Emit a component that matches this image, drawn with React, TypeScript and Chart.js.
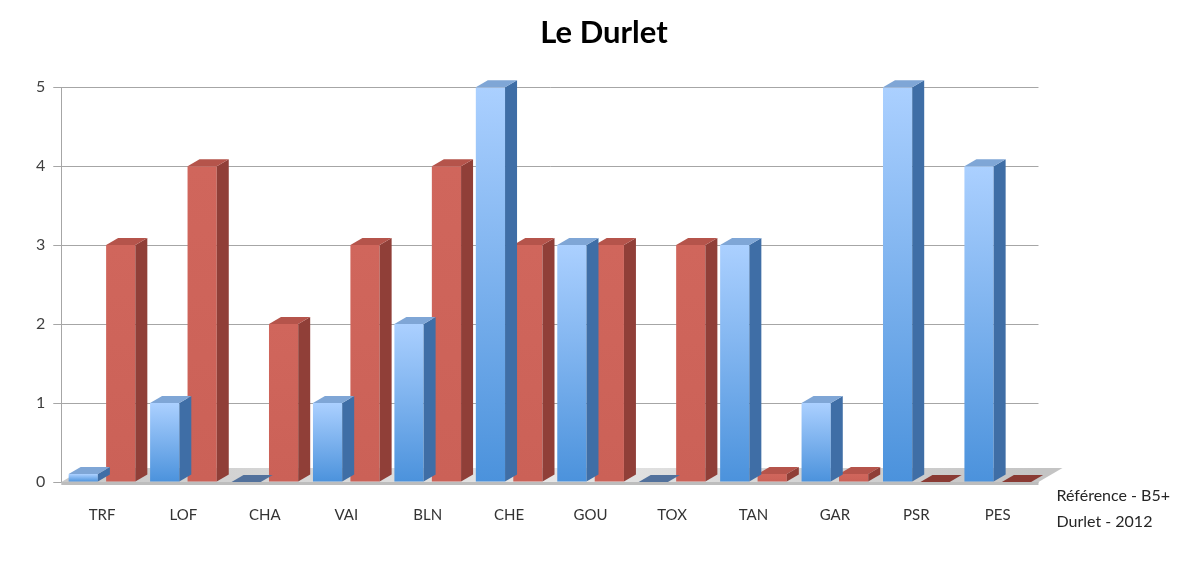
import { useEffect, useRef } from "react";
import { Chart, registerables } from "chart.js";

Chart.register(...registerables);

const chartTitle = "Le Durlet";
const categories = ["TRF", "LOF", "CHA", "VAI", "BLN", "CHE", "GOU", "TOX", "TAN", "GAR", "PSR", "PES"];
const seriesNames = ["Durlet - 2012", "Référence - B5+"];
const durlet2012 = [0.1, 1, 0, 1, 2, 5, 3, 0, 3, 1, 5, 4];
const referenceB5 = [3, 4, 2, 3, 4, 3, 3, 3, 0.1, 0.1, 0, 0];
const yTicks = [0, 1, 2, 3, 4, 5];

const DX = 12;
const DY = -7;

const palette = [
  { light: "#abd0ff", dark: "#4b92dc", side: "#3f6ea6", top: "#7fa6d6", flat: "#52719c" },
  { light: "#d0665c", dark: "#cb6157", side: "#903f38", top: "#b5544b", flat: "#8a3a33" },
];

function frontFill(i: number) {
  return (ctx: any) => {
    const chart = ctx.chart;
    const ys = chart.scales && chart.scales.y;
    const p = palette[i];
    if (!chart.chartArea || !ys || ctx.type !== "data") return p.dark;
    const v = ctx.raw as number;
    const top = ys.getPixelForValue(v);
    const bottom = ys.getPixelForValue(0);
    if (bottom - top < 1) return p.dark;
    const g = chart.ctx.createLinearGradient(0, top, 0, bottom);
    g.addColorStop(0, p.light);
    g.addColorStop(1, p.dark);
    return g;
  };
}

const depthPlugin = {
  id: "depth3d",
  beforeDatasetsDraw(chart: any) {
    const { ctx, chartArea } = chart;
    const b = chartArea.bottom;
    ctx.save();
    const g = ctx.createLinearGradient(chartArea.left, 0, chartArea.right, 0);
    g.addColorStop(0, "#c8c8c8");
    g.addColorStop(0.5, "#e6e6e6");
    g.addColorStop(1, "#c4c4c4");
    ctx.fillStyle = g;
    ctx.beginPath();
    ctx.moveTo(chartArea.left, b);
    ctx.lineTo(chartArea.left + DX * 2, b + DY * 2);
    ctx.lineTo(chartArea.right + DX * 2, b + DY * 2);
    ctx.lineTo(chartArea.right, b);
    ctx.closePath();
    ctx.fill();
    ctx.fillStyle = "#bdbdbd";
    ctx.fillRect(chartArea.left, b, chartArea.right - chartArea.left, 3);
    ctx.restore();
  },
  afterDatasetDraw(chart: any, args: any) {
    const { ctx } = chart;
    const p = palette[args.index];
    ctx.save();
    args.meta.data.forEach((el: any) => {
      const w = el.width;
      const left = el.x - w / 2;
      const right = el.x + w / 2;
      const top = Math.min(el.y, el.base);
      const base = Math.max(el.y, el.base);
      const h = base - top;
      if (h > 0.5) {
        ctx.fillStyle = p.side;
        ctx.beginPath();
        ctx.moveTo(right, top);
        ctx.lineTo(right + DX, top + DY);
        ctx.lineTo(right + DX, base + DY);
        ctx.lineTo(right, base);
        ctx.closePath();
        ctx.fill();
      }
      ctx.fillStyle = h > 0.5 ? p.top : p.flat;
      ctx.beginPath();
      ctx.moveTo(left, top);
      ctx.lineTo(left + DX, top + DY);
      ctx.lineTo(right + DX, top + DY);
      ctx.lineTo(right, top);
      ctx.closePath();
      ctx.fill();
    });
    ctx.restore();
  },
};

export default function App() {
  const ref = useRef<HTMLCanvasElement | null>(null);

  useEffect(() => {
    if (!ref.current) return;
    const chart = new Chart(ref.current, {
      type: "bar",
      data: {
        labels: categories,
        datasets: [
          {
            label: seriesNames[0],
            data: durlet2012,
            backgroundColor: frontFill(0),
            categoryPercentage: 0.92,
            barPercentage: 0.78,
          },
          {
            label: seriesNames[1],
            data: referenceB5,
            backgroundColor: frontFill(1),
            categoryPercentage: 0.92,
            barPercentage: 0.78,
          },
        ],
      },
      options: {
        animation: false,
        responsive: true,
        maintainAspectRatio: false,
        layout: { padding: { top: 2, right: 4, left: 20, bottom: 18 } },
        plugins: {
          title: {
            display: true,
            text: chartTitle,
            color: "#000000",
            font: { family: "Lato, 'Open Sans', sans-serif", size: 31, weight: "bold" },
            padding: { top: 4, bottom: 36 },
          },
          legend: {
            display: true,
            position: "right",
            align: "end",
            reverse: true,
            labels: {
              boxWidth: 0,
              boxHeight: 0,
              padding: 10,
              color: "#262626",
              font: { family: "Lato, 'Open Sans', sans-serif", size: 16 },
              generateLabels: (c: any) =>
                c.data.datasets.map((d: any, i: number) => ({
                  text: d.label,
                  fillStyle: "rgba(0,0,0,0)",
                  strokeStyle: "rgba(0,0,0,0)",
                  lineWidth: 0,
                  hidden: false,
                  datasetIndex: i,
                  fontColor: "#262626",
                })),
            },
          },
          tooltip: { enabled: false },
        },
        scales: {
          x: {
            grid: { display: false },
            border: { display: false },
            ticks: {
              color: "#333333",
              padding: 16,
              font: { family: "Lato, 'Open Sans', sans-serif", size: 15 },
            },
          },
          y: {
            min: 0,
            max: 5,
            afterBuildTicks: (axis: any) => {
              axis.ticks = yTicks.map((v) => ({ value: v }));
            },
            grid: { color: "#a6a6a6", lineWidth: 1, tickLength: 8 },
            border: { display: true, color: "#a6a6a6" },
            ticks: {
              color: "#404040",
              padding: 8,
              font: { family: "Lato, 'Open Sans', sans-serif", size: 16 },
            },
          },
        },
      },
      plugins: [depthPlugin],
    });
    return () => chart.destroy();
  }, []);

  return (
    <div style={{ width: 1176, height: 550, position: "relative" }}>
      <canvas ref={ref} />
    </div>
  );
}
